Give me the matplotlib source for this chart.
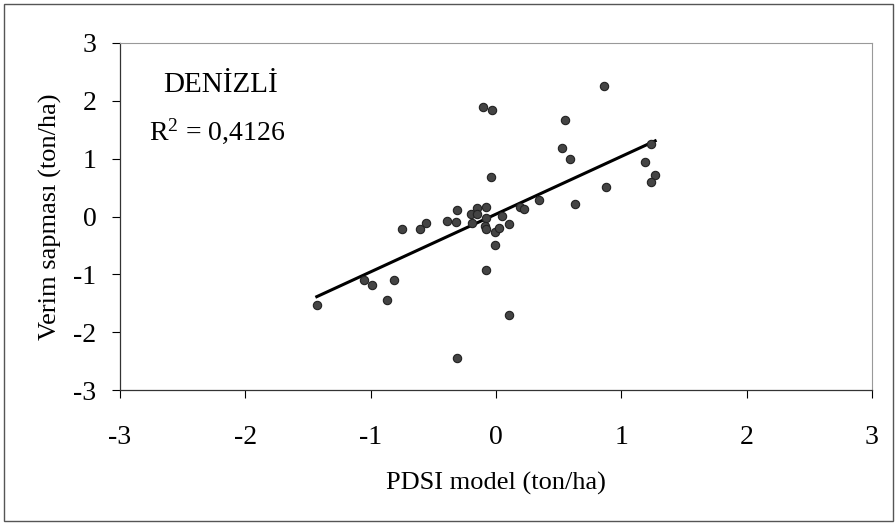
import matplotlib
matplotlib.use("Agg")
import matplotlib.pyplot as plt
import numpy as np
from matplotlib.patches import Rectangle

plt.rcParams['font.family'] = ['Liberation Serif', 'DejaVu Serif']
plt.rcParams['mathtext.fontset'] = 'custom'
plt.rcParams['mathtext.rm'] = 'Liberation Serif'
plt.rcParams['mathtext.it'] = 'Liberation Serif'

# Data (PDSI model estimate vs yield deviation, ton/ha)
pdsi = [-0.10, -0.03, -0.04, -0.31, -0.15, -0.08, -0.20, -0.15, -0.39, -0.32,
        -0.56, -0.61, -0.75, -0.19, -0.08, -0.09, -0.08, -0.01, 0.02, 0.05,
        0.10, 0.19, 0.22, 0.34, -0.01, -0.08, 0.10, -0.31, -1.43, -1.05,
        -0.99, -0.81, -0.87, 0.86, 0.55, 0.53, 0.59, 1.24, 1.19, 1.27,
        1.24, 0.88, 0.63]
sapma = [1.90, 1.84, 0.69, 0.11, 0.14, 0.16, 0.04, 0.04, -0.07, -0.10,
         -0.12, -0.22, -0.22, -0.12, -0.02, -0.16, -0.22, -0.26, -0.20, 0.01,
         -0.13, 0.16, 0.13, 0.29, -0.50, -0.93, -1.70, -2.44, -1.53, -1.10,
         -1.18, -1.10, -1.44, 2.25, 1.66, 1.19, 0.99, 1.25, 0.95, 0.71,
         0.59, 0.51, 0.21]
ticks = [-3, -2, -1, 0, 1, 2, 3]
station = "DENİZLİ"
r2_text = "R$^2$ = 0,4126"

fig = plt.figure(figsize=(8.96, 5.23), dpi=100)
ax = fig.add_axes([120/896, 1-390/523, (872-120)/896, (390-43)/523])

x = np.array(pdsi)
y = np.array(sapma)
slope, intercept = np.polyfit(x, y, 1)
xl = np.array([x.min(), x.max()])
ax.plot(xl, slope*xl + intercept, color='black', lw=2.2, zorder=2)
ax.scatter(x, y, s=36, color='#444444', edgecolors='#222222', linewidths=0.8, zorder=3)

ax.set_xlim(-3, 3)
ax.set_ylim(-3, 3)
ax.set_xticks(ticks)
ax.set_yticks(ticks)
ax.set_xticklabels([str(t) for t in ticks])
ax.set_yticklabels([str(t) for t in ticks])
ax.tick_params(axis='both', direction='out', length=6, width=0.8, labelsize=20, colors='black')
ax.tick_params(axis='x', pad=19)
ax.tick_params(axis='y', pad=11)
for s in ['top', 'right']:
    ax.spines[s].set_color('#999999')
    ax.spines[s].set_linewidth(0.8)
for s in ['left', 'bottom']:
    ax.spines[s].set_color('#333333')
    ax.spines[s].set_linewidth(0.9)

ax.set_xlabel("PDSI model (ton/ha)", fontsize=19, labelpad=16)
ax.set_ylabel("Verim sapması (ton/ha)", fontsize=19, labelpad=8)

fig.text(221/896, 1-85/523, station, fontsize=21, ha='center', va='center')
fig.text(217/896, 1-131/523, r2_text, fontsize=20, ha='center', va='center')

fig.patches.append(Rectangle((4/896, 1-521/523), 889/896, 517/523, transform=fig.transFigure,
                             fill=False, edgecolor='#555555', lw=1.0))

fig.savefig("out.png", dpi=100)
